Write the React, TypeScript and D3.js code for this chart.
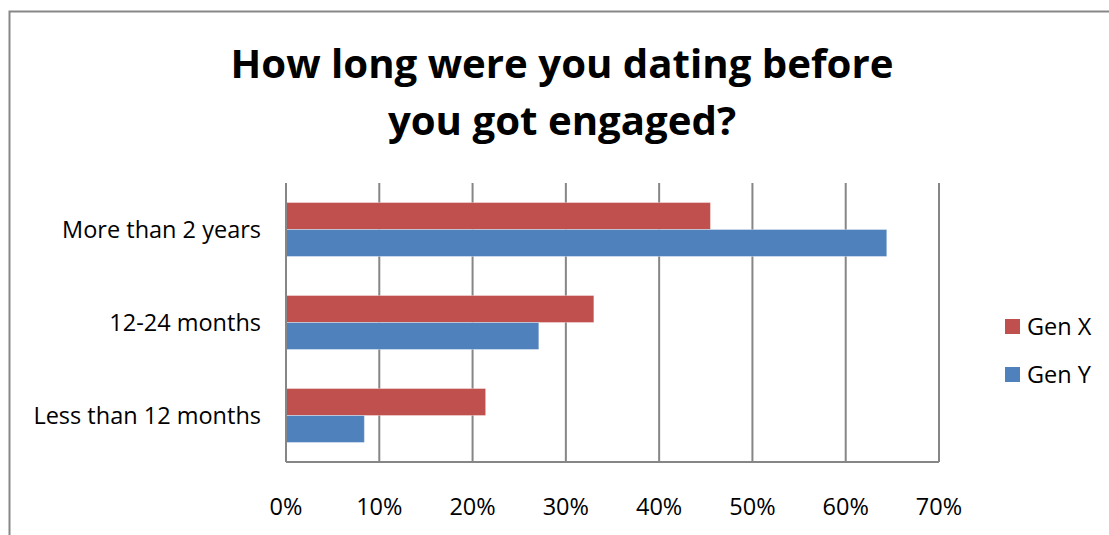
import React from "react";
import * as d3 from "d3";

const categories = ["More than 2 years", "12-24 months", "Less than 12 months"];
const seriesNames = ["Gen X", "Gen Y"];
const genX = [0.455, 0.33, 0.214];
const genY = [0.644, 0.271, 0.084];
const xTicks = [0, 0.1, 0.2, 0.3, 0.4, 0.5, 0.6, 0.7];
const titleLines = ["How long were you dating before", "you got engaged?"];
const colors = ["#C0504D", "#4F81BD"];

const W = 1109;
const H = 535;
const plot = { left: 286, right: 939, top: 183, bottom: 462 };
const FONT = "'Open Sans', Lato, sans-serif";
const FS = 23.5;

export default function App() {
  const x = d3.scaleLinear().domain([0, 0.7]).range([plot.left, plot.right]);
  const y = d3.scaleBand<string>().domain(categories).range([plot.top, plot.bottom]).paddingInner(0.42).paddingOuter(0.21);
  const sub = d3.scaleBand<string>().domain(seriesNames).range([0, y.bandwidth()]);
  const series = [genX, genY];

  return (
    <svg width={W} height={H} style={{ position: "absolute", left: 0, top: 0, display: "block" }}>
      <rect x={0} y={0} width={W} height={H} fill="#fff" />
      <path d={`M9.5,${H} V11.5 H${W}`} fill="none" stroke="#878787" strokeWidth={2} />
      {titleLines.map((t, i) => (
        <text key={t} x={562} y={78 + i * 57} textAnchor="middle" fontFamily={FONT} fontWeight="bold" fontSize={40.2} fill="#000">
          {t}
        </text>
      ))}
      {xTicks.map((t) => (
        <line key={t} x1={x(t)} x2={x(t)} y1={plot.top} y2={plot.bottom} stroke="#868686" strokeWidth={2} />
      ))}
      {series.map((vals, si) =>
        categories.map((c, ci) => (
          <rect
            key={c + si}
            x={x(0)}
            y={(y(c) as number) + (sub(seriesNames[si]) as number)}
            width={x(vals[ci]) - x(0)}
            height={sub.bandwidth()}
            fill={colors[si]}
            stroke="#ffffff"
            strokeOpacity={0.35}
            strokeWidth={1}
          />
        ))
      )}
      <line x1={plot.left} x2={plot.right} y1={plot.bottom} y2={plot.bottom} stroke="#868686" strokeWidth={2} />
      <line x1={plot.left} x2={plot.left} y1={plot.top} y2={plot.bottom} stroke="#868686" strokeWidth={2} />
      {categories.map((c) => (
        <text key={c} x={261} y={(y(c) as number) + y.bandwidth() / 2} dy="0.35em" textAnchor="end" fontFamily={FONT} fontSize={FS} fill="#000">
          {c}
        </text>
      ))}
      {xTicks.map((t) => (
        <text key={t} x={x(t)} y={507} dy="0.35em" textAnchor="middle" fontFamily={FONT} fontSize={FS} fill="#000">
          {d3.format(".0%")(t)}
        </text>
      ))}
      {seriesNames.map((s, i) => (
        <g key={s} transform={`translate(1005,${319 + i * 48})`}>
          <rect x={0} y={0} width={15} height={15} fill={colors[i]} />
          <text x={22} y={7.5} dy="0.35em" fontFamily={FONT} fontSize={FS} fill="#000">
            {s}
          </text>
        </g>
      ))}
    </svg>
  );
}
